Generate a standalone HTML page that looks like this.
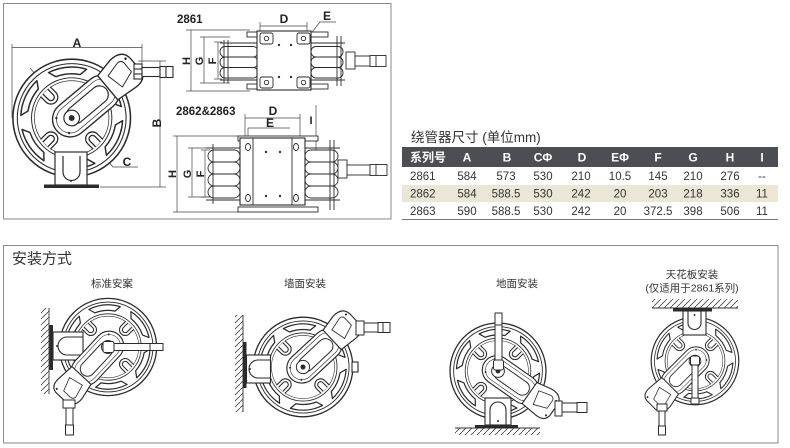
<!DOCTYPE html>
<html><head><meta charset="utf-8"><style>
html,body{margin:0;padding:0;background:#fff;}
body{width:790px;height:448px;overflow:hidden;}
svg{display:block;}
.lb{font-family:"Liberation Sans",sans-serif;font-weight:bold;fill:#222;}
.cn{font-family:"Liberation Sans","Noto Sans CJK SC",sans-serif;fill:#333;}
.td{font-family:"Liberation Sans","Noto Sans CJK SC",sans-serif;fill:#333;font-size:11.5px;text-anchor:middle;}
.th{font-family:"Liberation Sans","Noto Sans CJK SC",sans-serif;fill:#fff;font-size:12px;font-weight:bold;text-anchor:middle;}
</style></head><body>
<svg width="790" height="448" viewBox="0 0 790 448" xmlns="http://www.w3.org/2000/svg">
<defs>
<pattern id="hatch" patternUnits="userSpaceOnUse" width="6" height="6">
<path d="M-1,7 L7,-1" stroke="#444" stroke-width="0.8"/>
</pattern>
<path id="win" d="M43.4,-12.4 L48.2,-19.5 A52,52 0 0 1 48.2,19.5 L43.4,12.4 A45,45 0 0 0 43.4,-12.4Z"/>
<g id="lug" fill="#fff" stroke="#2b2b2b" stroke-width="1.3">
<path d="M38,-7 L30,-7 A7,7 0 0 0 30,7 L38,7"/>
<path d="M38,-3.5 L30,-3.5 A3.5,3.5 0 0 0 30,3.5 L38,3.5" fill="none"/>
</g>
<g id="wheel">
<circle r="60" fill="#fff" stroke="#2b2b2b" stroke-width="1.6"/>
<circle r="55.5" fill="none" stroke="#2b2b2b" stroke-width="1.1"/>
<circle r="41" fill="none" stroke="#2b2b2b" stroke-width="1"/>
<circle r="38" fill="none" stroke="#2b2b2b" stroke-width="0.7"/>
<g fill="#fff" stroke="#2b2b2b" stroke-width="1.5" stroke-linejoin="round">
<use href="#win" transform="rotate(-95)"/>
<use href="#win" transform="rotate(-155)"/>
<use href="#win" transform="rotate(145)"/>
<use href="#win" transform="rotate(85)"/>
<use href="#win" transform="rotate(25)"/>
<use href="#win" transform="rotate(-35)"/>
</g>
<use href="#lug" transform="rotate(-135)"/>
<use href="#lug" transform="rotate(135)"/>
<use href="#lug" transform="rotate(45)"/>
<use href="#lug" transform="rotate(-45)"/>
</g>
<g id="arm" stroke="#2b2b2b" fill="#fff">
<rect x="-20" y="-18" width="78" height="36" rx="18" stroke-width="1.4"/>
<rect x="-16" y="-14" width="70" height="28" rx="14" fill="none" stroke-width="0.7"/>
<rect x="-4" y="-9" width="50" height="18" rx="9" fill="none" stroke-width="1.2"/>
<path d="M48,-16 L68,-20 Q84,-21 85,-8 L85,8 Q84,19 70,18 L48,16 Z" stroke-width="1.4"/>
<path d="M56,-9 L72,-13 Q77,-13 77,-8 L77,3 L60,9 Z" fill="none" stroke-width="1"/>
<circle cx="81" cy="-11" r="1.3" fill="#2b2b2b" stroke="none"/>
<circle cx="81" cy="11" r="1.3" fill="#2b2b2b" stroke="none"/>
<circle r="8" stroke-width="1.2"/>
<circle r="3" fill="#2b2b2b" stroke="none"/>
<circle cx="-12" cy="10" r="1.2" fill="#2b2b2b" stroke="none"/>
<circle cx="-12" cy="-10" r="1.2" fill="#2b2b2b" stroke="none"/>
</g>
</defs>

<!-- ============ TOP BOX ============ -->
<rect x="3.5" y="3.5" width="387.5" height="215.5" fill="none" stroke="#8a8a8a" stroke-width="1"/>

<g stroke="#444" stroke-width="0.7" fill="none">
<line x1="12" y1="44" x2="12" y2="118"/>
<line x1="142" y1="44" x2="142" y2="68"/>
<line x1="12" y1="47.5" x2="142" y2="47.5"/>
<line x1="138" y1="61" x2="166" y2="61"/>
<line x1="100" y1="187" x2="166" y2="187"/>
<line x1="160" y1="61" x2="160" y2="187"/>
<polyline points="93,143 113,167 138,167"/>
<line x1="30" y1="68" x2="56" y2="98"/>
</g>
<text class="lb" x="77" y="47" font-size="12" text-anchor="middle">A</text>
<text class="lb" x="0" y="0" font-size="12" text-anchor="middle" transform="translate(157 123) rotate(-90) translate(0 4)">B</text>
<text class="lb" x="127" y="166" font-size="12" text-anchor="middle">C</text>

<use href="#wheel" transform="translate(71.7 118) scale(0.98)"/>
<g stroke="#2b2b2b" stroke-width="1.2" fill="#fff">
<rect x="55" y="152" width="32" height="33"/>
<path d="M63,156 L63,172 A8.5,8.5 0 0 0 80,172 L80,156" fill="none"/>
</g>
<circle cx="71" cy="181" r="1" fill="#333"/>
<rect x="44" y="184.5" width="55" height="3.5" fill="#2b2b2b"/>
<use href="#arm" transform="translate(71.7 118) scale(0.98) rotate(-40)"/>
<g stroke="#2b2b2b" stroke-width="1.1" fill="#fff">
<rect x="134" y="64" width="8" height="15"/>
<line x1="134" y1="69" x2="142" y2="69"/><line x1="134" y1="74" x2="142" y2="74"/>
<rect x="142" y="67.5" width="18" height="9"/>
<rect x="160" y="66.5" width="13" height="11"/>
<line x1="166" y1="66.5" x2="166" y2="77.5"/>
</g>

<!-- 2861 side view -->
<text class="lb" x="177" y="23" font-size="11.5">2861</text>
<g stroke="#444" stroke-width="0.7" fill="none">
<line x1="186" y1="30" x2="250" y2="30"/><line x1="186" y1="91" x2="250" y2="91"/>
<line x1="191" y1="30" x2="191" y2="91"/>
<line x1="200" y1="37" x2="230" y2="37"/><line x1="200" y1="83" x2="230" y2="83"/>
<line x1="204" y1="37" x2="204" y2="83"/>
<line x1="214" y1="42" x2="222" y2="42"/><line x1="214" y1="79" x2="222" y2="79"/>
<line x1="218" y1="42" x2="218" y2="79"/>
<line x1="260" y1="22" x2="260" y2="33"/><line x1="307" y1="22" x2="307" y2="33"/>
<line x1="260" y1="26" x2="307" y2="26"/>
<polyline points="305,41 320,22 336,22"/>
</g>
<text class="lb" font-size="11" text-anchor="middle" transform="translate(186 61) rotate(-90) translate(0 4)">H</text>
<text class="lb" font-size="11" text-anchor="middle" transform="translate(199 61) rotate(-90) translate(0 4)">G</text>
<text class="lb" font-size="11" text-anchor="middle" transform="translate(212 61) rotate(-90) translate(0 4)">F</text>
<text class="lb" x="284" y="23" font-size="12" text-anchor="middle">D</text>
<text class="lb" x="327" y="20" font-size="12" text-anchor="middle">E</text>
<g stroke="#2b2b2b" stroke-width="0.9" fill="#fff">
<line x1="220" y1="43" x2="345" y2="43"/><line x1="220" y1="80" x2="345" y2="80"/>
<rect x="247" y="32" width="81" height="5"/>
<rect x="247" y="84" width="81" height="5"/>
<rect x="220" y="46.5" width="38" height="10.5" rx="5"/>
<rect x="220" y="57" width="38" height="10.5" rx="5"/>
<rect x="220" y="67.5" width="38" height="10.5" rx="5"/>
<rect x="311" y="46.5" width="32" height="10.5" rx="5"/>
<rect x="311" y="57" width="32" height="10.5" rx="5"/>
<rect x="311" y="67.5" width="32" height="10.5" rx="5"/>
<line x1="224" y1="40" x2="224" y2="83"/><line x1="228" y1="40" x2="228" y2="83"/>
<line x1="337" y1="36" x2="337" y2="86"/><line x1="341" y1="36" x2="341" y2="86"/>
<rect x="257" y="31" width="54" height="59" stroke-width="1.1"/>
<rect x="260" y="33" width="13" height="11" rx="2"/><rect x="297" y="33" width="13" height="11" rx="2"/>
<rect x="260" y="77" width="13" height="11" rx="2"/><rect x="297" y="77" width="13" height="11" rx="2"/>
<circle cx="266.5" cy="38.5" r="2.2"/><circle cx="303.5" cy="38.5" r="2.2"/>
<circle cx="266.5" cy="82.5" r="2.2"/><circle cx="303.5" cy="82.5" r="2.2"/>
<rect x="346" y="52" width="9" height="17"/>
<rect x="355" y="56" width="15" height="10"/>
<rect x="370" y="55.5" width="16" height="11"/>
<line x1="376" y1="55.5" x2="376" y2="66.5"/>
</g>
<g fill="#333"><circle cx="279" cy="45" r="1.2"/><circle cx="291" cy="45" r="1.2"/><circle cx="279" cy="77" r="1.2"/><circle cx="291" cy="77" r="1.2"/></g>

<!-- 2862&2863 side view -->
<text class="lb" x="176" y="115" font-size="11.5">2862&amp;2863</text>
<g stroke="#444" stroke-width="0.7" fill="none">
<line x1="173" y1="136" x2="238" y2="136"/><line x1="173" y1="212" x2="238" y2="212"/>
<line x1="177" y1="136" x2="177" y2="212"/>
<line x1="188" y1="148" x2="212" y2="148"/><line x1="188" y1="197" x2="212" y2="197"/>
<line x1="192" y1="148" x2="192" y2="197"/>
<line x1="201" y1="150" x2="210" y2="150"/><line x1="201" y1="197" x2="210" y2="197"/>
<line x1="205" y1="150" x2="205" y2="197"/>
<line x1="245" y1="114" x2="245" y2="138"/><line x1="300" y1="114" x2="300" y2="138"/>
<line x1="245" y1="118" x2="300" y2="118"/>
<line x1="248" y1="128" x2="290" y2="128"/>
<line x1="248" y1="128" x2="248" y2="150"/>
<line x1="316" y1="105" x2="316" y2="158"/>
</g>
<text class="lb" font-size="11" text-anchor="middle" transform="translate(172 174) rotate(-90) translate(0 4)">H</text>
<text class="lb" font-size="11" text-anchor="middle" transform="translate(187 174) rotate(-90) translate(0 4)">G</text>
<text class="lb" font-size="11" text-anchor="middle" transform="translate(200 174) rotate(-90) translate(0 4)">F</text>
<text class="lb" x="273" y="115" font-size="12" text-anchor="middle">D</text>
<text class="lb" x="270" y="127" font-size="12" text-anchor="middle">E</text>
<text class="lb" x="311" y="124" font-size="11" text-anchor="middle">I</text>
<g stroke="#2b2b2b" stroke-width="0.9" fill="#fff">
<line x1="206" y1="148" x2="340" y2="148"/><line x1="206" y1="200" x2="340" y2="200"/>
<rect x="238" y="136" width="80" height="5"/>
<rect x="238" y="207" width="80" height="5"/>
<rect x="208" y="150" width="32" height="12" rx="6"/>
<rect x="208" y="162" width="32" height="12" rx="6"/>
<rect x="208" y="174" width="32" height="12" rx="6"/>
<rect x="208" y="186" width="32" height="12" rx="6"/>
<rect x="305" y="150" width="33" height="12" rx="6"/>
<rect x="305" y="162" width="33" height="12" rx="6"/>
<rect x="305" y="174" width="33" height="12" rx="6"/>
<rect x="305" y="186" width="33" height="12" rx="6"/>
<line x1="213" y1="144" x2="213" y2="204"/>
<line x1="330" y1="140" x2="330" y2="210"/><line x1="334" y1="140" x2="334" y2="210"/>
<rect x="240" y="138" width="65" height="67" stroke-width="1.1"/>
<line x1="253" y1="138" x2="253" y2="205"/><line x1="292" y1="138" x2="292" y2="205"/>
<ellipse cx="248" cy="147" rx="2.5" ry="3.5"/><ellipse cx="296" cy="147" rx="2.5" ry="3.5"/>
<ellipse cx="248" cy="198" rx="2.5" ry="3.5"/><ellipse cx="296" cy="198" rx="2.5" ry="3.5"/>
<rect x="338" y="160" width="9" height="18"/>
<rect x="347" y="165" width="23" height="10"/>
<rect x="370" y="164.5" width="17" height="11"/>
<line x1="376" y1="164.5" x2="376" y2="175.5"/>
</g>
<g fill="#333"><circle cx="266" cy="152" r="1.2"/><circle cx="280" cy="152" r="1.2"/><circle cx="266" cy="196" r="1.2"/><circle cx="280" cy="196" r="1.2"/></g>

<!-- ============ TABLE ============ -->
<text class="cn" x="411" y="142" font-size="13.5">绕管器尺寸 (单位mm)</text>
<rect x="402" y="147" width="376" height="20" fill="#4b4e53"/>
<rect x="402" y="185" width="376" height="17" fill="#ece6d7"/>
<line x1="402" y1="219.5" x2="778" y2="219.5" stroke="#777" stroke-width="1"/>
<text class="th" x="410" y="161.5" style="text-anchor:start">系列号</text>
<text class="th" x="467" y="161.5">A</text>
<text class="th" x="507" y="161.5">B</text>
<text class="th" x="543" y="161.5">CΦ</text>
<text class="th" x="582" y="161.5">D</text>
<text class="th" x="620" y="161.5">EΦ</text>
<text class="th" x="658" y="161.5">F</text>
<text class="th" x="693" y="161.5">G</text>
<text class="th" x="730" y="161.5">H</text>
<text class="th" x="762" y="161.5">I</text>

<text class="td" x="410" y="180" style="text-anchor:start">2861</text>
<text class="td" x="467" y="180">584</text>
<text class="td" x="506" y="180">573</text>
<text class="td" x="543" y="180">530</text>
<text class="td" x="581" y="180">210</text>
<text class="td" x="620" y="180">10.5</text>
<text class="td" x="658" y="180">145</text>
<text class="td" x="693" y="180">210</text>
<text class="td" x="730" y="180">276</text>
<text class="td" x="762" y="180">--</text>

<text class="td" x="410" y="197.5" style="text-anchor:start">2862</text>
<text class="td" x="467" y="197.5">584</text>
<text class="td" x="506" y="197.5">588.5</text>
<text class="td" x="543" y="197.5">530</text>
<text class="td" x="581" y="197.5">242</text>
<text class="td" x="620" y="197.5">20</text>
<text class="td" x="658" y="197.5">203</text>
<text class="td" x="693" y="197.5">218</text>
<text class="td" x="730" y="197.5">336</text>
<text class="td" x="762" y="197.5">11</text>

<text class="td" x="410" y="215" style="text-anchor:start">2863</text>
<text class="td" x="467" y="215">590</text>
<text class="td" x="506" y="215">588.5</text>
<text class="td" x="543" y="215">530</text>
<text class="td" x="581" y="215">242</text>
<text class="td" x="620" y="215">20</text>
<text class="td" x="658" y="215">372.5</text>
<text class="td" x="693" y="215">398</text>
<text class="td" x="730" y="215">506</text>
<text class="td" x="762" y="215">11</text>

<!-- ============ BOTTOM BOX ============ -->
<rect x="3.5" y="245.5" width="774.5" height="197.5" fill="none" stroke="#8a8a8a" stroke-width="1"/>
<text class="cn" x="12" y="263.5" font-size="15">安装方式</text>
<text class="cn" x="112" y="287" font-size="10.5" text-anchor="middle">标准安案</text>
<text class="cn" x="305" y="287" font-size="10.5" text-anchor="middle">墙面安装</text>
<text class="cn" x="517" y="287" font-size="10.5" text-anchor="middle">地面安装</text>
<text class="cn" x="692" y="278" font-size="10.5" text-anchor="middle">天花板安装</text>
<text class="cn" x="692" y="291.5" font-size="10.5" text-anchor="middle">(仅适用于2861系列)</text>

<!-- 1 standard -->
<rect x="41" y="308" width="8" height="86" fill="url(#hatch)"/>
<line x1="49" y1="308" x2="49" y2="394" stroke="#333" stroke-width="0.9"/>
<use href="#wheel" transform="translate(108 347) scale(0.81)"/>
<g stroke="#2b2b2b" stroke-width="1.1" fill="#fff">
<rect x="53" y="332" width="30" height="28"/>
<path d="M83,337 L67,337 A9,9 0 0 0 67,355 L83,355" fill="none"/>
</g>
<circle cx="57" cy="346" r="1" fill="#333"/>
<rect x="49.5" y="325" width="3.5" height="45" fill="#2b2b2b"/>
<use href="#arm" transform="translate(108 347) scale(0.81) rotate(133)"/>
<g stroke="#2b2b2b" stroke-width="1" fill="#fff">
<rect x="112" y="343.5" width="51" height="7"/>
<line x1="150" y1="343.5" x2="150" y2="350.5"/>
<rect x="103" y="341.5" width="11" height="11" rx="2"/>
<rect x="63" y="400" width="12" height="8"/>
<rect x="66" y="408" width="7" height="17"/>
<rect x="65.5" y="425" width="8" height="10"/>
</g>

<!-- 2 wall -->
<rect x="235" y="315" width="8" height="97" fill="url(#hatch)"/>
<line x1="243" y1="315" x2="243" y2="412" stroke="#333" stroke-width="0.9"/>
<use href="#wheel" transform="translate(303 367) scale(0.83)"/>
<g stroke="#2b2b2b" stroke-width="1.1" fill="#fff">
<rect x="246.5" y="355" width="24" height="28"/>
<path d="M270.5,360 L258,360 A9,9 0 0 0 258,378 L270.5,378" fill="none"/>
<rect x="352" y="362" width="6" height="10"/>
</g>
<circle cx="250" cy="369" r="1" fill="#333"/>
<rect x="243" y="342" width="3.5" height="46" fill="#2b2b2b"/>
<use href="#arm" transform="translate(303 367) scale(0.83) rotate(-43)"/>
<g stroke="#2b2b2b" stroke-width="1" fill="#fff">
<rect x="356" y="321" width="8" height="14"/>
<rect x="364" y="323" width="14" height="9"/>
<rect x="378" y="322.5" width="12" height="10"/>
<line x1="383" y1="322.5" x2="383" y2="332.5"/>
</g>

<!-- 3 floor -->
<rect x="455" y="428" width="85" height="7" fill="url(#hatch)"/>
<line x1="455" y1="428" x2="540" y2="428" stroke="#333" stroke-width="0.9"/>
<use href="#wheel" transform="translate(498 371) scale(0.8)"/>
<g stroke="#2b2b2b" stroke-width="1.1" fill="#fff">
<rect x="485" y="398" width="26" height="27"/>
<path d="M490,425 L490,410 A8,8 0 0 1 506,410 L506,425" fill="none"/>
</g>
<circle cx="498" cy="421" r="1" fill="#333"/>
<rect x="475" y="425" width="43" height="3.5" fill="#2b2b2b"/>
<use href="#arm" transform="translate(498 371) scale(0.8) rotate(35)"/>
<g stroke="#2b2b2b" stroke-width="1" fill="#fff">
<rect x="495" y="313" width="7" height="52"/>
<line x1="495" y1="325" x2="502" y2="325"/>
<rect x="493.5" y="360" width="10" height="10" rx="2"/>
<rect x="555" y="401" width="7" height="15"/>
<rect x="562" y="403" width="15" height="9"/>
<rect x="577" y="402.5" width="10" height="10"/>
</g>

<!-- 4 ceiling -->
<rect x="652" y="298" width="86" height="10" fill="url(#hatch)"/>
<rect x="652" y="296" width="86" height="3" fill="#fff"/>
<line x1="652" y1="308" x2="738" y2="308" stroke="#333" stroke-width="0.9"/>
<use href="#wheel" transform="translate(695 361) scale(0.73)"/>
<g stroke="#2b2b2b" stroke-width="1.1" fill="#fff">
<rect x="683" y="311" width="23" height="24"/>
<path d="M688,311 L688,323 A6.5,6.5 0 0 0 701,323 L701,311" fill="none"/>
</g>
<circle cx="694.5" cy="315" r="1" fill="#333"/>
<rect x="673" y="308" width="39" height="3.5" fill="#2b2b2b"/>
<use href="#arm" transform="translate(695 361) scale(0.73) rotate(135)"/>
<g stroke="#2b2b2b" stroke-width="1" fill="#fff">
<rect x="692" y="360" width="6" height="44"/>
<rect x="690.5" y="356" width="9" height="9" rx="2"/>
<rect x="691" y="398" width="8" height="6"/>
<rect x="657" y="404" width="10" height="7"/>
<rect x="659" y="411" width="6" height="15"/>
<rect x="658.5" y="426" width="7" height="9"/>
</g>
</svg>
</body></html>
